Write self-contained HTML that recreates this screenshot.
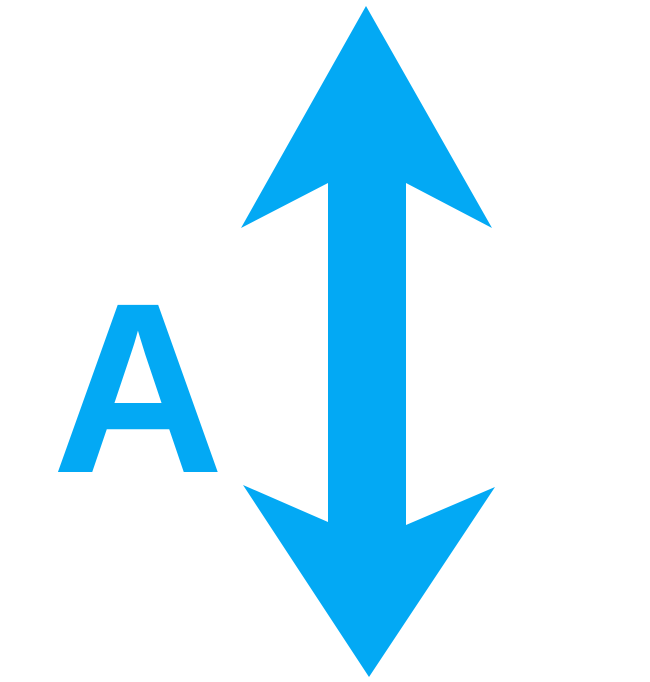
<!DOCTYPE html>
<html>
<head>
<meta charset="utf-8">
<style>
  html,body{margin:0;padding:0;background:#fff;width:650px;height:682px;overflow:hidden;}
  svg{display:block;}
</style>
</head>
<body>
<svg width="650" height="682" viewBox="0 0 650 682">
  <rect x="0" y="0" width="650" height="682" fill="#ffffff"/>
  <polygon fill="#03A9F4"
    points="366,6 492,228 406,183 406,525 495,487 369,677 243,485 328,522 328,183 241,228"/>
  <text x="52" y="472" fill="#03A9F4"
    font-family="'Liberation Sans', sans-serif" font-weight="bold" font-size="243"
    textLength="172" lengthAdjust="spacingAndGlyphs">A</text>
</svg>
</body>
</html>
